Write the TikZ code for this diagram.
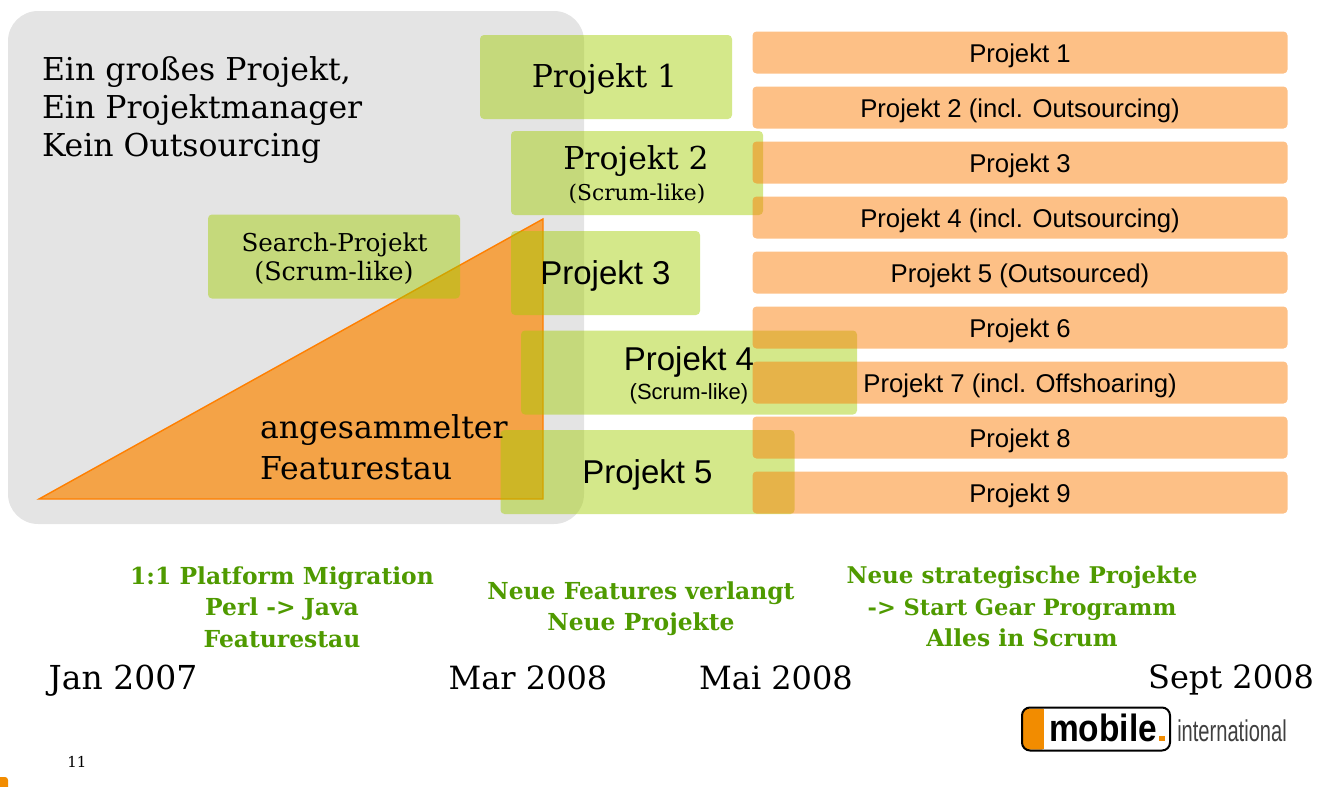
\documentclass[tikz,border=0pt]{standalone}
\usepackage{fontspec}
\setmainfont{Liberation Sans}
\newfontfamily\slab{DejaVu Serif}
\definecolor{panelgray}{HTML}{E4E4E4}
\definecolor{triorange}{HTML}{F4A347}
\definecolor{triedge}{HTML}{FF7F00}
\definecolor{barorange}{RGB}{251,122,0}
\definecolor{boxgreen}{RGB}{161,205,0}
\definecolor{notegreen}{HTML}{4F9A00}
\definecolor{logoorange}{HTML}{F28C00}
\newcommand{\fs}[1]{\fontsize{#1}{#1}\selectfont}
\tikzset{
  x=1pt,y=-1pt,
  base/.style={inner sep=0pt,outer sep=0pt,rounded corners=4pt,anchor=center},
  bar/.style={base,fill=barorange,fill opacity=.476,text opacity=1,minimum width=535,minimum height=42,font=\fs{25.7},text height=24,text depth=5},
  gbox/.style={base,fill=boxgreen,fill opacity=.46,minimum height=84},
  label/.style={inner sep=0pt,outer sep=0pt,anchor=base,align=center},
  note/.style={label,text=notegreen,font=\slab\bfseries\fs{23.4}},
  date/.style={label,font=\slab\fs{32}},
  lead/.style={label,anchor=base west,font=\slab\fs{31.5}},
}
\begin{document}
\begin{tikzpicture}
\useasboundingbox (0,0) rectangle (1318,787);
\node[base,fill=panelgray,rounded corners=30pt,minimum width=576,minimum height=513] (panel) at (296,267.5) {};
\coordinate (ta) at (39,499);
\coordinate (tb) at (543,499);
\coordinate (tc) at (543,219);
\fill[triorange,draw=triedge,line width=1.4pt] (ta) -- (tb) -- (tc) -- cycle;
\node[gbox,minimum width=252] (g1) at (606,77) {};
\node[gbox,minimum width=252] (g2) at (637,173) {};
\node[gbox,minimum width=252] (gs) at (334,256.5) {};
\node[gbox,minimum width=189] (g3) at (605.5,273) {};
\node[gbox,minimum width=336] (g4) at (689,372.5) {};
\node[gbox,minimum width=294] (g5) at (647.5,472) {};
\node[bar] (b1) at (1020,52.5) {Projekt 1};
\node[bar] (b2) at (1020,107.5) {Projekt 2 (incl. Outsourcing)};
\node[bar] (b3) at (1020,162.5) {Projekt 3};
\node[bar] (b4) at (1020,217.5) {Projekt 4 (incl. Outsourcing)};
\node[bar] (b5) at (1020,272.5) {Projekt 5 (Outsourced)};
\node[bar] (b6) at (1020,327.5) {Projekt 6};
\node[bar] (b7) at (1020,382.5) {Projekt 7 (incl. Offshoaring)};
\node[bar] (b8) at (1020,437.5) {Projekt 8};
\node[bar] (b9) at (1020,492.5) {Projekt 9};
\node[label,font=\slab\fs{31.5}] (t1) at (604.5,87) {Projekt 1};
\node[label,font=\slab\fs{31.5}] (t2) at (636,169) {Projekt 2};
\node[label,font=\slab\fs{21.8}] (t2b) at (637,200) {(Scrum-like)};
\node[label,font=\slab\fs{24.6}] (ts) at (334.5,251) {Search-Projekt};
\node[label,font=\slab\fs{25.4}] (tsb) at (334,280) {(Scrum-like)};
\node[label,font=\fs{33}] (t3) at (605.5,284) {Projekt 3};
\node[label,font=\fs{33}] (t4) at (689,370) {Projekt 4};
\node[label,font=\fs{22}] (t4b) at (689,399) {(Scrum-like)};
\node[label,font=\fs{33}] (t5) at (647.5,483) {Projekt 5};
\node[lead] (head) at (42,80) {Ein großes Projekt,};
\node[lead] (head2) at (42,118) {Ein Projektmanager};
\node[lead] (head3) at (42,156) {Kein Outsourcing};
\node[lead] (stau1) at (260,438) {angesammelter};
\node[lead] (stau2) at (260,479) {Featurestau};
\node[note] (n1) at (282,584) {1:1 Platform Migration};
\node[note] (n2) at (282,615) {Perl -> Java};
\node[note] (n3) at (282,647) {Featurestau};
\node[note] (n4) at (641,599) {Neue Features verlangt};
\node[note] (n5) at (641,630) {Neue Projekte};
\node[note,font=\slab\bfseries\fs{23}] (n6) at (1022,583) {Neue strategische Projekte};
\node[note,font=\slab\bfseries\fs{22.5}] (n7) at (1022,615) {-> Start Gear Programm};
\node[note] (n8) at (1022,646) {Alles in Scrum};
\node[date,font=\slab\fs{33}] (d1) at (123,689) {Jan 2007};
\node[date] (d2) at (528,689) {Mar 2008};
\node[date] (d3) at (776,689) {Mai 2008};
\node[date] (d4) at (1231,688) {Sept 2008};
\node[label,font=\slab\fs{15}] (page) at (77,767) {11};
\node[base,fill=logoorange,rounded corners=3pt,minimum width=22,minimum height=41] (lband) at (1034,729) {};
\fill[white] (1044,708.5) rectangle (1060,749.5);
\node[base,draw=black,line width=2pt,rounded corners=8pt,minimum width=148,minimum height=43] (lframe) at (1096,729) {};
\node[label,font=\bfseries\fs{38},xscale=.88] (lmob) at (1103,741) {mobile};
\node[base,fill=logoorange,rounded corners=0pt,minimum width=6,minimum height=5] (ldot) at (1162,738.5) {};
\node[label,font=\fs{30},xscale=.67,text=black!75] (lint) at (1232,741) {international};
\fill[logoorange,rounded corners=3pt] (-6,777) rectangle (8,797);
\end{tikzpicture}
\end{document}
